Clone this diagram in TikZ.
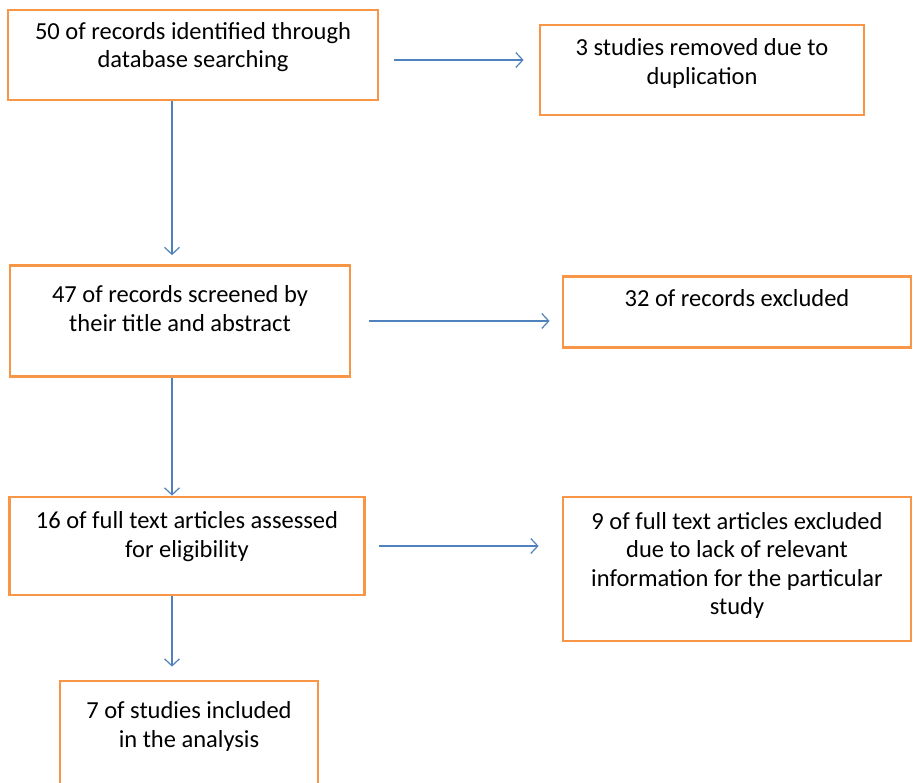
\documentclass[tikz,border=0pt]{standalone}
\usepackage{fontspec}
\setmainfont{Carlito}
\usetikzlibrary{arrows.meta}

\definecolor{boxorange}{RGB}{247,150,70}
\definecolor{arrowblue}{RGB}{79,129,189}

\begin{document}
\begin{tikzpicture}[x=1pt,y=-1pt]
  \tikzset{stage/.style = {shape=rectangle,draw=boxorange,line width=2.8pt,align=center,
      inner sep=0pt,font=\fontsize{24.5}{28.5}\selectfont}}
  \tikzset{flow/.style = {draw=arrowblue,line width=1.2pt,-{Straight Barb[length=7pt,width=15pt]}}}

  \useasboundingbox (0,0) rectangle (913,783);

	\node[stage,minimum width=370pt,minimum height=90pt,text depth=20pt] (ident) at (193,55) {50 of records identified through\\database searching};
	\node[stage,minimum width=324pt,minimum height=90pt,text depth=17pt] (dupl) at (702,70) {3 studies removed due to\\duplication};

	\node[stage,minimum width=340pt,minimum height=111pt,text depth=25pt] (screen) at (180,321) {47 of records screened by\\their title and abstract};
	\node[stage,minimum width=348pt,minimum height=71pt,text depth=29pt] (excl) at (737,312) {32 of records excluded};

	\node[stage,minimum width=355pt,minimum height=98pt,text depth=23pt] (elig) at (187,546) {16 of full text articles assessed\\for eligibility};
	\node[stage,minimum width=348pt,minimum height=144pt,text depth=11pt] (fulltext) at (737,569) {9 of full text articles excluded\\due to lack of relevant\\information for the particular\\study};

	\node[stage,minimum width=258pt,minimum height=108pt,text depth=21pt] (incl) at (189,735) {7 of studies included\\in the analysis};

	\coordinate (spine) at (172,0);

       \foreach \from/\to/\gap in {ident/screen/9pt, screen/elig/0pt, elig/incl/13pt}
    \draw[flow,shorten >=\gap] (\from.south -| spine) -- (\to.north -| spine);

	\draw[flow,shorten <=15pt,shorten >=15pt] ([yshift=-5pt]ident.east) -- ([yshift=-5pt]ident.east -| dupl.west);
	\draw[flow,shorten <=18pt,shorten >=12pt] (screen.east) -- (screen.east -| excl.west);
	\draw[flow,shorten <=13pt,shorten >=23pt] (elig.east) -- (elig.east -| fulltext.west);
\end{tikzpicture}
\end{document}
